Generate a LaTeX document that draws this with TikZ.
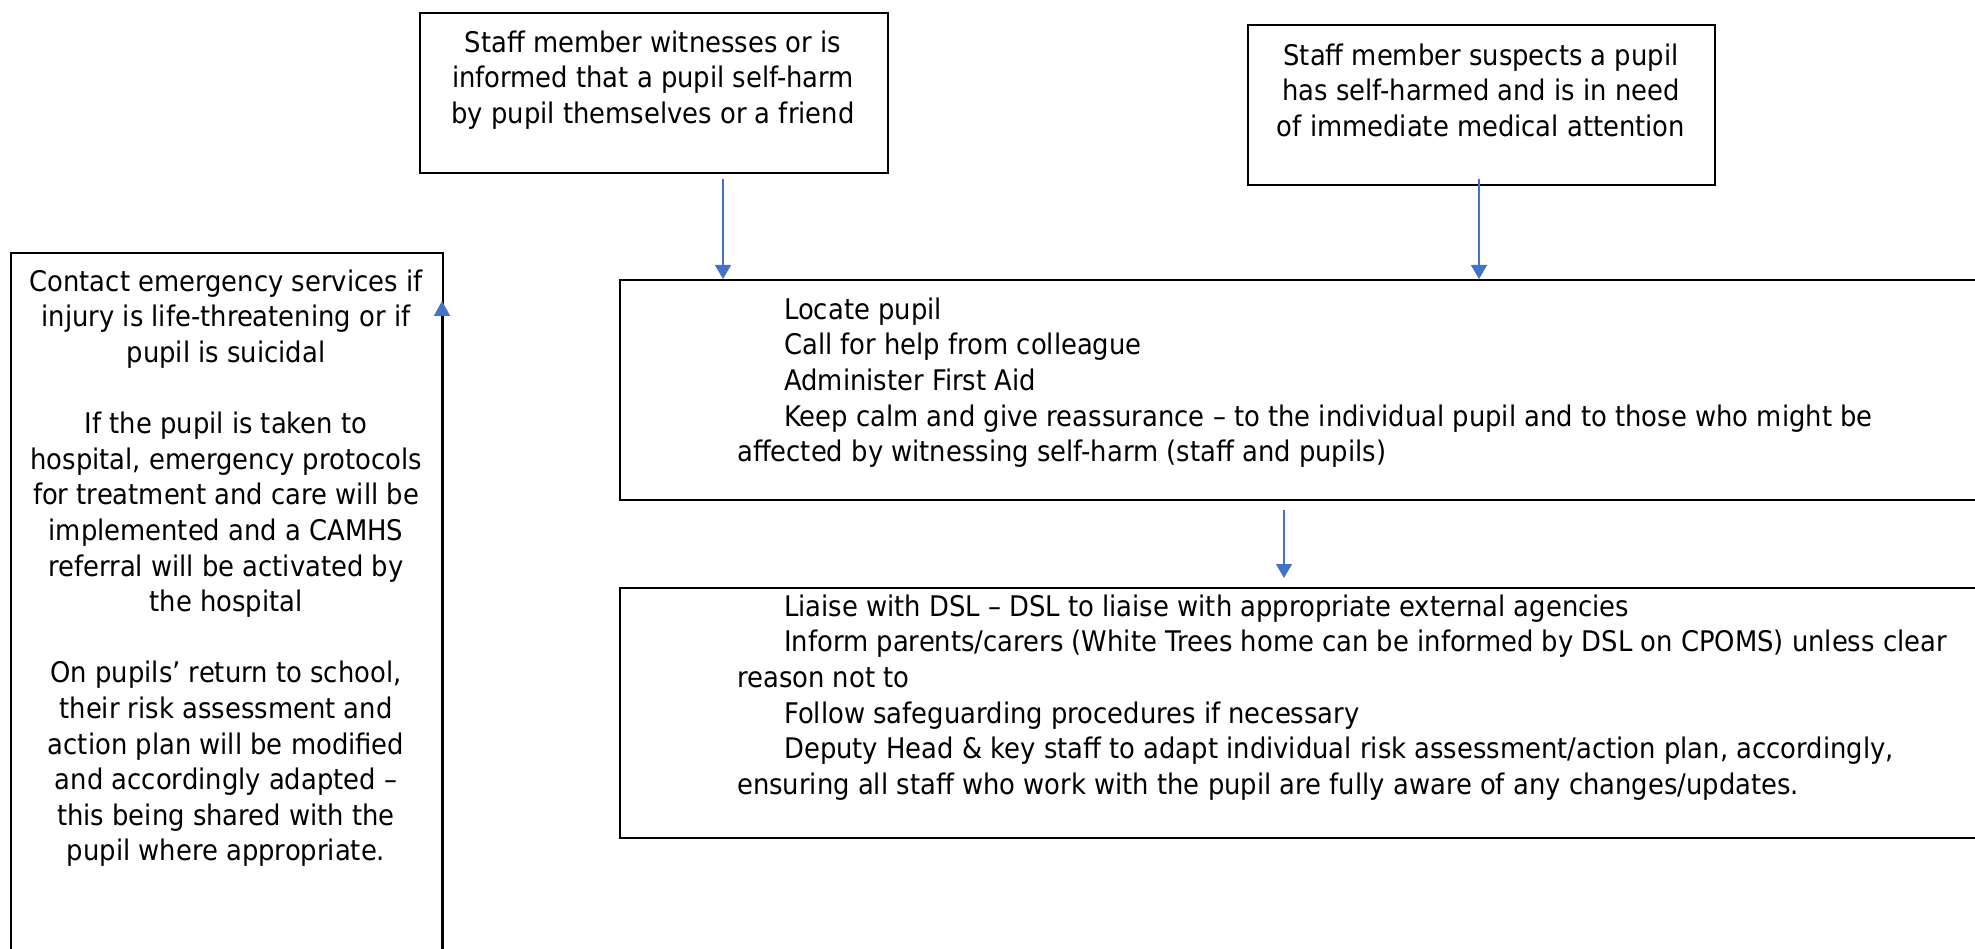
\documentclass[tikz,border=0pt]{standalone}
\usepackage{fontspec}
\setmainfont{DejaVu Sans}[FakeStretch=0.91]
\usetikzlibrary{arrows.meta}
\definecolor{arrowblue}{HTML}{4472C4}
\newcommand\firststrut{\rule{0pt}{22pt}}
\newcommand\ind{\hspace*{47pt}}
\tikzset{
  boxshape/.style={draw=black, line width=2pt, inner sep=0pt, anchor=north west},
  txt/.style={inner sep=0pt, font=\fontsize{28.4}{35.6}\selectfont},
  arr/.style={draw=arrowblue, line width=1.4pt, -{Triangle[width=16pt,length=14pt]}},
}
\begin{document}
\begin{tikzpicture}[x=1pt,y=-1pt]
\useasboundingbox (0,0) rectangle (1975,949);
\clip (0,0) rectangle (1975,949);
% boxes
\node[boxshape, minimum width=468, minimum height=160] (b1) at (419,12) {};
\node[boxshape, minimum width=467, minimum height=160] (b2) at (1247,24) {};
\node[boxshape, minimum width=1500, minimum height=220] (b3) at (619,279) {};
\node[boxshape, minimum width=1500, minimum height=250] (b4) at (619,587) {};
\node[boxshape, minimum width=432, minimum height=800] (lb) at (10,252) {};
% texts
\node[txt, anchor=north, align=center] (t1) at (653,30) {\firststrut Staff member witnesses or is\\ informed that a pupil self-harm\\ by pupil themselves or a friend};
\node[txt, anchor=north, align=center] (t2) at (1481,43) {\firststrut Staff member suspects a pupil\\ has self-harmed and is in need\\ of immediate medical attention};
\node[txt, anchor=north, align=center] (tl) at (226,269) {\firststrut Contact emergency services if\\ injury is life-threatening or if\\ pupil is suicidal\\[35.6pt] If the pupil is taken to\\ hospital, emergency protocols\\ for treatment and care will be\\ implemented and a CAMHS\\ referral will be activated by\\ the hospital\\[35.6pt] On pupils’ return to school,\\ their risk assessment and\\ action plan will be modified\\ and accordingly adapted –\\ this being shared with the\\ pupil where appropriate.};
\node[txt, anchor=north west, align=left] (t3) at (737,297) {\firststrut\ind Locate pupil\\ \ind Call for help from colleague\\ \ind Administer First Aid\\ \ind Keep calm and give reassurance – to the individual pupil and to those who might be\\ affected by witnessing self-harm (staff and pupils)};
\node[txt, anchor=north west, align=left] (t4) at (737,594) {\firststrut\ind Liaise with DSL – DSL to liaise with appropriate external agencies\\ \ind Inform parents/carers (White Trees home can be informed by DSL on CPOMS) unless clear\\ reason not to\\ \ind Follow safeguarding procedures if necessary\\ \ind Deputy Head \& key staff to adapt individual risk assessment/action plan, accordingly,\\ ensuring all staff who work with the pupil are fully aware of any changes/updates.};
% connectors
\coordinate (a1s) at (723,179);
\coordinate (a2s) at (1479,179);
\coordinate (a3s) at (1284,510);
\coordinate (a3e) at (1284,578);
\coordinate (ltip) at (442,301);
\draw[arr] (a1s) -- (b3.north -| a1s);
\draw[arr] (a2s) -- (b3.north -| a2s);
\draw[arr] (a3s) -- (a3e);
\draw[line width=2pt, draw=black, -{Triangle[width=16pt,length=15pt,color=arrowblue]}] (ltip |- lb.south) -- (ltip);
\end{tikzpicture}
\end{document}
